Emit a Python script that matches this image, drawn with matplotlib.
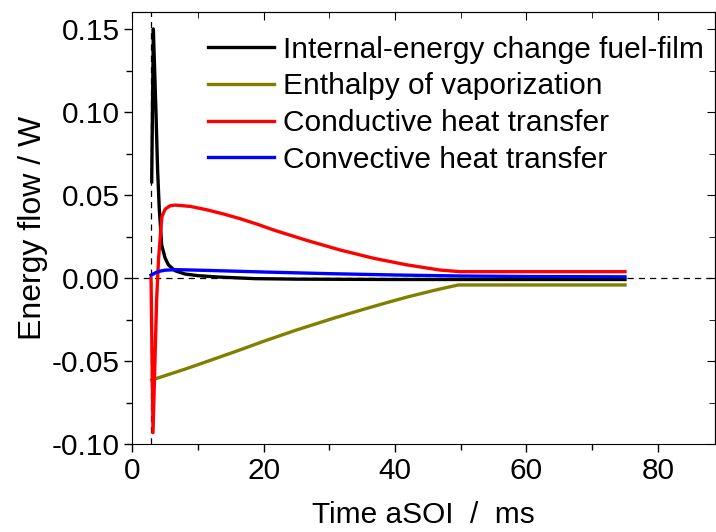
import matplotlib
matplotlib.use("Agg")
import matplotlib.pyplot as plt
from matplotlib.ticker import MultipleLocator, FormatStrFormatter

plt.rcParams['font.family'] = ['Liberation Sans', 'DejaVu Sans']
plt.rcParams['axes.unicode_minus'] = False

# Internal-energy change fuel-film
black_x = [2.95, 3.2, 3.4, 3.6, 3.85, 4.1, 4.47, 5.0, 5.5, 6.5, 8.0, 10.0, 13.0, 18.7, 25.0, 40.0, 60.0, 75.0]
black_y = [0.058, 0.150, 0.125, 0.100, 0.065, 0.042, 0.020, 0.012, 0.008, 0.0045, 0.0025, 0.0015, 0.0007, -0.0003, -0.0006, -0.0008, -0.0008, -0.0008]

# Enthalpy of vaporization
olive_x = [2.95, 8.0, 12.0, 15.6, 20.0, 25.0, 30.9, 35.0, 38.5, 42.0, 46.1, 49.6, 60.0, 75.0]
olive_y = [-0.0613, -0.0548, -0.0493, -0.0443, -0.0380, -0.0312, -0.0238, -0.0190, -0.0150, -0.0112, -0.0072, -0.0041, -0.0041, -0.0041]

# Conductive heat transfer
red_x = [2.85, 3.15, 3.7, 4.0, 4.5, 5.0, 5.7, 6.5, 8.8, 11.3, 14.0, 16.4, 19.0, 21.5, 26.5, 31.6, 36.7, 41.8, 46.8, 49.9, 60.0, 75.0]
red_y = [0.0, -0.093, -0.013, 0.012, 0.037, 0.0415, 0.0435, 0.044, 0.0432, 0.0412, 0.0385, 0.0358, 0.0325, 0.029, 0.0228, 0.017, 0.012, 0.008, 0.0049, 0.0039, 0.0039, 0.0039]

# Convective heat transfer
blue_x = [2.85, 3.5, 4.2, 5.0, 6.5, 8.0, 12.0, 20.0, 30.0, 40.0, 50.0, 60.0, 75.0]
blue_y = [0.0018, 0.0032, 0.0042, 0.0048, 0.0051, 0.0050, 0.0046, 0.0037, 0.0027, 0.0019, 0.0013, 0.0010, 0.0008]

labels = ["Internal-energy change fuel-film", "Enthalpy of vaporization",
          "Conductive heat transfer", "Convective heat transfer"]
colors = ["#000000", "#808000", "#ff0000", "#0000ff"]

fig = plt.figure(figsize=(7.16, 5.32), dpi=100)
ax = fig.add_axes([0.1848, 0.1649, 0.8138, 0.8131])

ax.axhline(0, color='black', lw=0.9, ls=(0, (5, 4)), zorder=1)
ax.axvline(2.85, color='black', lw=0.9, ls=(0, (5, 4)), zorder=1)

for xs, ys, c, lab in zip([black_x, olive_x, red_x, blue_x], [black_y, olive_y, red_y, blue_y], colors, labels):
    ax.plot(xs, ys, color=c, lw=2.4, label=lab, zorder=3, solid_joinstyle='round')

ax.set_xlim(0, 88.7)
ax.set_ylim(-0.10, 0.1604)
ax.xaxis.set_major_locator(MultipleLocator(20))
ax.xaxis.set_minor_locator(MultipleLocator(10))
ax.yaxis.set_major_locator(MultipleLocator(0.05))
ax.yaxis.set_minor_locator(MultipleLocator(0.025))
ax.yaxis.set_major_formatter(FormatStrFormatter('%.2f'))
ax.tick_params(which='both', direction='out', labelsize=21.5, width=1, top=False, right=False)
ax.tick_params(which='major', length=6, pad=3)
ax.tick_params(which='minor', length=4)

secx = ax.secondary_xaxis('top')
secx.xaxis.set_major_locator(MultipleLocator(20))
secx.xaxis.set_minor_locator(MultipleLocator(10))
secx.tick_params(which='both', direction='in', labeltop=False)
secx.tick_params(which='major', length=6)
secx.tick_params(which='minor', length=4)
secy = ax.secondary_yaxis('right')
secy.yaxis.set_major_locator(MultipleLocator(0.05))
secy.yaxis.set_minor_locator(MultipleLocator(0.025))
secy.tick_params(which='both', direction='in', labelright=False)
secy.tick_params(which='major', length=6)
secy.tick_params(which='minor', length=4)

ax.set_xlabel("Time aSOI  /  ms", fontsize=21.5, labelpad=12)
ax.set_ylabel("Energy flow / W", fontsize=23, labelpad=3)

leg = ax.legend(loc='upper left', bbox_to_anchor=(0.11, 0.972), frameon=False, fontsize=21.5,
                handlelength=2.2, handletextpad=0.3, labelspacing=0.29, borderaxespad=0)

fig.savefig("out.png", dpi=100)
